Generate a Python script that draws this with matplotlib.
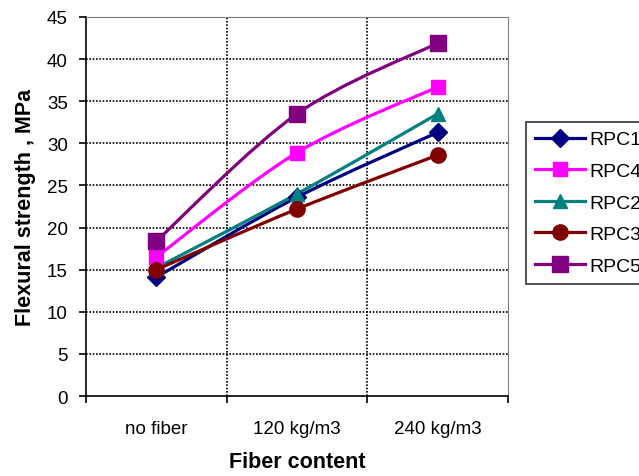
import numpy as np
import matplotlib
matplotlib.use("Agg")
import matplotlib.pyplot as plt
from matplotlib.path import Path
from matplotlib.patches import PathPatch
from matplotlib.lines import Line2D

plt.rcParams['font.family'] = ['Liberation Sans', 'DejaVu Sans']

categories = ["no fiber", "120 kg/m3", "240 kg/m3"]
names = ["RPC1", "RPC4", "RPC2", "RPC3", "RPC5"]
rpc1 = [14.1, 23.6, 31.3]
rpc4 = [16.5, 28.9, 36.7]
rpc2 = [15.2, 24.0, 33.5]
rpc3 = [15.0, 22.2, 28.6]
rpc5 = [18.4, 33.5, 41.9]

series = [rpc1, rpc4, rpc2, rpc3, rpc5]
colors = ["#000080", "#FF00FF", "#008080", "#800000", "#800080"]
markers = ["D", "s", "^", "o", "s"]
msizes = [9, 10, 10, 11, 11]


def smooth_path(x, y):
    # Excel-like smoothed line: cubic bezier with 1/6 tangent control points
    pts = np.column_stack([x, y]).astype(float)
    n = len(pts)
    verts = [pts[0]]
    codes = [Path.MOVETO]
    for i in range(n - 1):
        p0 = pts[i - 1] if i > 0 else pts[i]
        p1 = pts[i]
        p2 = pts[i + 1]
        p3 = pts[i + 2] if i + 2 < n else pts[i + 1]
        c1 = p1 + (p2 - p0) / 6.0
        c2 = p2 - (p3 - p1) / 6.0
        verts += [c1, c2, p2]
        codes += [Path.CURVE4] * 3
    return Path(verts, codes)


fig = plt.figure(figsize=(6.39, 4.77), dpi=100)
ax = fig.add_axes([0.1346, 0.1677, 0.795 - 0.1346, 0.9623 - 0.1677])

xpos = np.arange(len(categories))
handles = []
for vals, c, m, ms, name in zip(series, colors, markers, msizes, names):
    ax.add_patch(PathPatch(smooth_path(xpos, vals), fill=False, edgecolor=c,
                           lw=2.3, zorder=3, capstyle='round'))
    ax.plot(xpos, vals, linestyle='none', marker=m, markersize=ms, color=c, zorder=4)
    handles.append(Line2D([], [], color=c, lw=2.3, marker=m, markersize=ms))

ax.set_xlim(-0.5, 2.5)
ax.set_ylim(0, 45)
ax.set_yticks(np.arange(0, 46, 5))
ax.set_xticks(xpos)
ax.set_xticklabels(categories, fontsize=13.5)
ax.set_xticks([-0.5, 0.5, 1.5, 2.5], minor=True)
ax.tick_params(axis='x', which='major', length=0, pad=17)
ax.tick_params(axis='x', which='minor', length=5, width=1.2, direction='out')
ax.tick_params(axis='y', length=5, width=1.2, direction='out', labelsize=13.5, pad=8)

for yv in np.arange(5, 46, 5):
    ax.axhline(yv, color='black', lw=1.2, linestyle=(0, (1, 1)), zorder=1)
for xv in [0.5, 1.5]:
    ax.axvline(xv, color='black', lw=1.2, linestyle=(0, (1, 1)), zorder=1)

ax.spines['left'].set_linewidth(1.2)
ax.spines['bottom'].set_linewidth(1.2)
ax.spines['top'].set_color('#808080')
ax.spines['right'].set_color('#808080')

ax.set_xlabel("Fiber content", fontsize=15.5, fontweight='bold', labelpad=10)
ax.set_ylabel("Flexural strength , MPa", fontsize=15.5, fontweight='bold', labelpad=8)

leg = fig.legend(handles, names, loc='upper left', bbox_to_anchor=(0.823, 0.742),
                 bbox_transform=fig.transFigure, borderaxespad=0, fontsize=14,
                 frameon=True, fancybox=False, edgecolor='black', handlelength=2.6,
                 handletextpad=0.2, labelspacing=0.72, borderpad=0.45)
leg.get_frame().set_linewidth(1.2)

fig.savefig("out.png", dpi=100)
